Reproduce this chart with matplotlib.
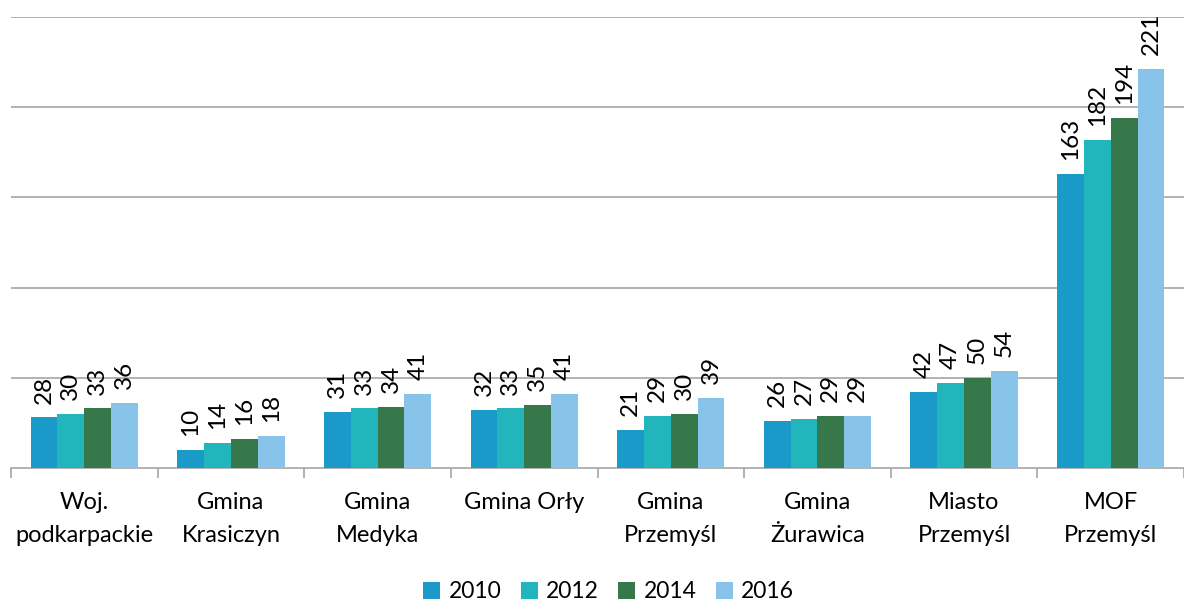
import matplotlib
matplotlib.use("Agg")
import matplotlib.pyplot as plt
import numpy as np
from matplotlib.patches import Patch

categories = ["Woj.\npodkarpackie", "Gmina\nKrasiczyn", "Gmina\nMedyka", "Gmina Orły",
              "Gmina\nPrzemyśl", "Gmina\nŻurawica", "Miasto\nPrzemyśl", "MOF\nPrzemyśl"]
series_names = ["2010", "2012", "2014", "2016"]
v2010 = [28, 10, 31, 32, 21, 26, 42, 163]
v2012 = [30, 14, 33, 33, 29, 27, 47, 182]
v2014 = [33, 16, 34, 35, 30, 29, 50, 194]
v2016 = [36, 18, 41, 41, 39, 29, 54, 221]
colors = ["#1a9ac9", "#22b5bb", "#37784a", "#88c4ea"]

plt.rcParams['font.family'] = ['Lato', 'DejaVu Sans']

fig = plt.figure(figsize=(11.84, 6.02), dpi=100)
ax = fig.add_axes([11/1184, (602-468)/602, (1184-11)/1184, (468-17)/602])

x = np.arange(len(categories))
w = 0.183
data = [v2010, v2012, v2014, v2016]
for i, (vals, c) in enumerate(zip(data, colors)):
    pos = x + (i - 1.5) * w
    bars = ax.bar(pos, vals, w, color=c, zorder=3)
    for b, v in zip(bars, vals):
        ax.annotate(str(v), (b.get_x() + b.get_width()/2, v), xytext=(0, 10),
                    textcoords='offset points', rotation=90,
                    ha='center', va='bottom', fontsize=17.5, color='black')

ax.set_xlim(-0.5, len(categories) - 0.5)
ax.set_ylim(0, 250)
ax.set_yticks([50, 100, 150, 200, 250])
ax.yaxis.grid(True, color='#a6a6a6', linewidth=1.2, zorder=0)
ax.tick_params(axis='y', left=False, labelleft=False)
for s in ['top', 'right', 'left']:
    ax.spines[s].set_visible(False)
ax.spines['bottom'].set_color('#a6a6a6')
ax.spines['bottom'].set_linewidth(1.2)

ax.set_xticks(x)
ax.set_xticklabels(categories, fontsize=17, linespacing=1.75)
ax.tick_params(axis='x', length=0, pad=17)
ax.set_xticks(np.arange(len(categories) + 1) - 0.5, minor=True)
ax.tick_params(axis='x', which='minor', length=7, color='#a6a6a6', width=1.2)

handles = [Patch(facecolor=c) for c in colors]
fig.legend(handles, series_names, loc='center', bbox_to_anchor=(0.514, 10/602), ncol=4,
           frameon=False, fontsize=16.5, handlelength=0.75, handleheight=0.75,
           columnspacing=0.85, handletextpad=0.35)

fig.savefig("out.png", dpi=100)
